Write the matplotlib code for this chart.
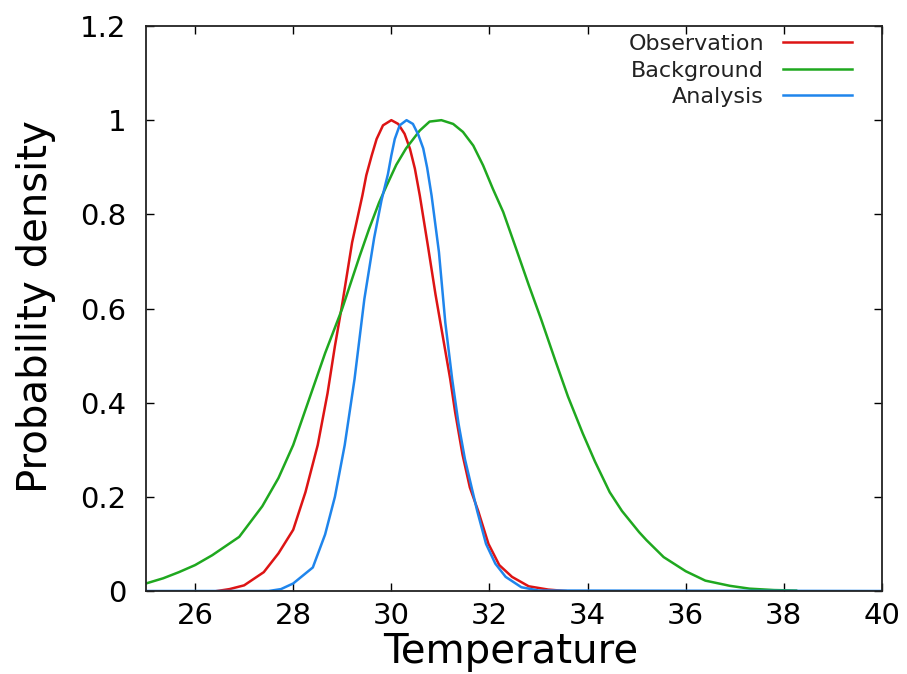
import matplotlib
matplotlib.use("Agg")
import matplotlib.pyplot as plt

# values
obs_x = [26.45, 26.7, 27.0, 27.4, 27.7, 28.0, 28.25, 28.5, 28.7, 28.85, 29.0, 29.2, 29.41,
         29.49, 29.6, 29.7, 29.83, 30.0, 30.14, 30.27, 30.38, 30.48, 30.58, 30.75, 30.9,
         31.05, 31.2, 31.3, 31.45, 31.6, 31.77, 31.98, 32.2, 32.46, 32.8, 33.2, 33.55]
obs_y = [0.0, 0.004, 0.012, 0.04, 0.08, 0.13, 0.21, 0.31, 0.42, 0.52, 0.61, 0.74, 0.84,
         0.883, 0.925, 0.96, 0.989, 1.0, 0.992, 0.971, 0.939, 0.897, 0.84, 0.73, 0.63,
         0.54, 0.45, 0.38, 0.29, 0.22, 0.17, 0.10, 0.055, 0.03, 0.01, 0.003, 0.0]

bg_x = [25.0, 25.35, 25.67, 26.0, 26.35, 26.9, 27.37, 27.7, 28.0, 28.3, 28.65, 29.0, 29.35,
        29.55, 29.75, 29.9, 30.1, 30.3, 30.58, 30.78, 31.02, 31.26, 31.46, 31.67, 31.87,
        32.07, 32.28, 32.55, 32.8, 33.05, 33.35, 33.6, 33.9, 34.15, 34.45, 34.7, 35.05,
        35.2, 35.55, 36.0, 36.4, 36.9, 37.3, 37.8, 38.25]
bg_y = [0.016, 0.027, 0.04, 0.055, 0.076, 0.115, 0.18, 0.24, 0.31, 0.40, 0.505, 0.60, 0.71,
        0.77, 0.825, 0.86, 0.905, 0.94, 0.978, 0.997, 1.0, 0.992, 0.975, 0.946, 0.904,
        0.854, 0.805, 0.725, 0.65, 0.578, 0.487, 0.413, 0.335, 0.275, 0.21, 0.17, 0.125,
        0.108, 0.072, 0.042, 0.022, 0.011, 0.005, 0.002, 0.001]

an_x = [25.0, 27.5, 27.75, 28.0, 28.4, 28.65, 28.85, 29.05, 29.25, 29.45, 29.65, 29.8,
        29.93, 30.0, 30.07, 30.17, 30.31, 30.44, 30.55, 30.65, 30.73, 30.82, 30.97, 31.1,
        31.24, 31.37, 31.5, 31.75, 31.93, 32.12, 32.33, 32.65, 33.0, 40.0]
an_y = [0.0, 0.0, 0.004, 0.016, 0.05, 0.12, 0.2, 0.31, 0.45, 0.62, 0.75, 0.83,
        0.885, 0.925, 0.96, 0.989, 1.0, 0.992, 0.969, 0.94, 0.899, 0.84, 0.72, 0.57,
        0.45, 0.355, 0.28, 0.17, 0.10, 0.058, 0.03, 0.008, 0.001, 0.0]

series = [
    ("Observation", obs_x, obs_y, "#dd1414"),
    ("Background", bg_x, bg_y, "#1fa81f"),
    ("Analysis", an_x, an_y, "#1f85ec"),
]

x_ticks = [26, 28, 30, 32, 34, 36, 38, 40]
y_ticks = [0, 0.2, 0.4, 0.6, 0.8, 1.0, 1.2]
y_tick_labels = ["0", "0.2", "0.4", "0.6", "0.8", "1", "1.2"]

fig = plt.figure(figsize=(9.07, 6.74), dpi=100)
ax = fig.add_axes([146 / 907, 1 - 591 / 674, 736 / 907, 565 / 674])

for name, xs, ys, color in series:
    ax.plot(xs, ys, color=color, lw=1.8, label=name, solid_joinstyle="round")

ax.set_xlim(25, 40)
ax.set_ylim(0, 1.2)
ax.set_xticks(x_ticks)
ax.set_yticks(y_ticks)
ax.set_yticklabels(y_tick_labels)
ax.tick_params(direction="in", length=6, width=1.0, top=True, right=True,
               labelsize=21, colors="black")
ax.tick_params(axis="x", pad=8)
ax.tick_params(axis="y", pad=14)
for spine in ax.spines.values():
    spine.set_linewidth(1.3)
    spine.set_color("#222222")

ax.set_xlabel("Temperature", fontsize=29)
ax.set_ylabel("Probability density", fontsize=29)
ax.xaxis.set_label_coords(0.495, -0.072)
ax.yaxis.set_label_coords(-0.122, 0.503)

leg = ax.legend(loc="upper right", bbox_to_anchor=(0.959, 0.986), frameon=False,
                markerfirst=False, fontsize=16, handlelength=3.1, handletextpad=0.85,
                labelspacing=0.3, borderpad=0, borderaxespad=0)
for col in leg._legend_handle_box.get_children():
    col.align = "right"
for t in leg.get_texts():
    t.set_color("#222222")

fig.savefig("out.png", dpi=100)
